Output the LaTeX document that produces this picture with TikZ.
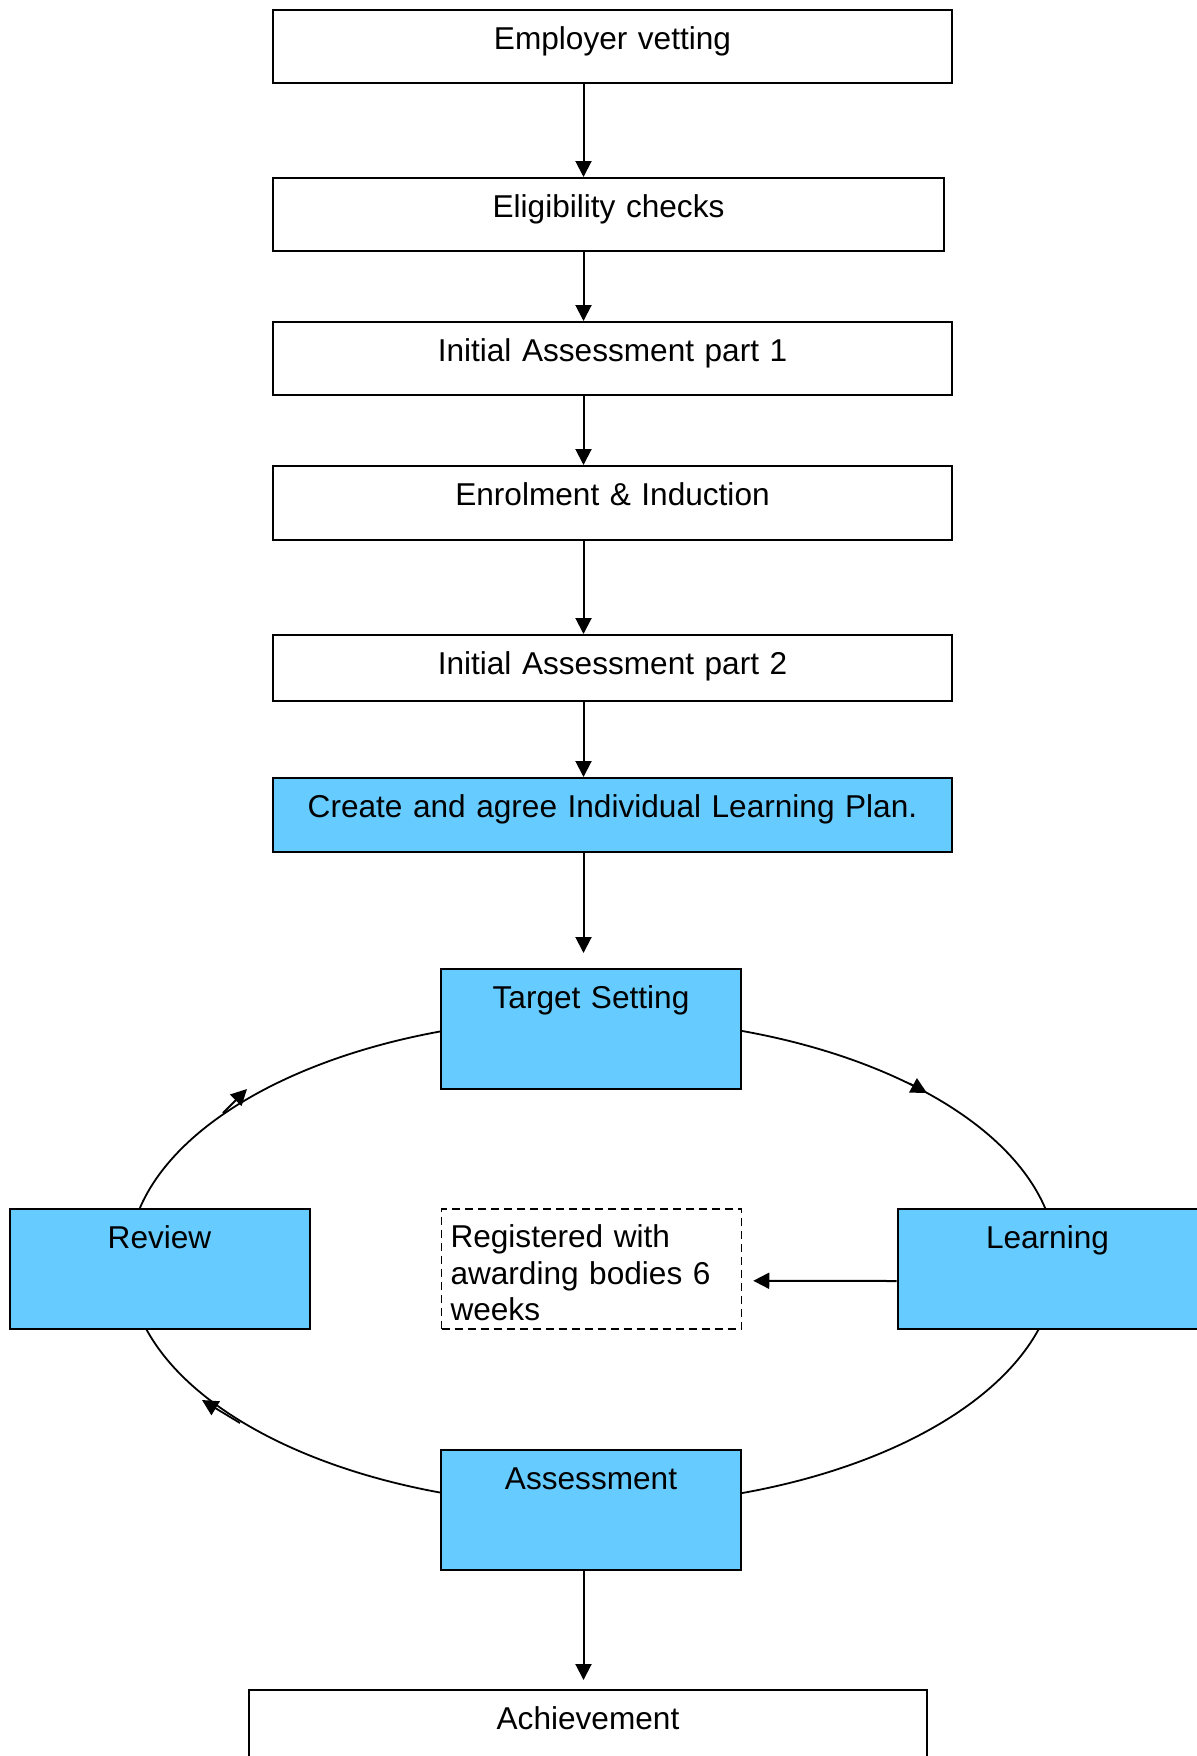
\documentclass[tikz,border=0pt]{standalone}
\usepackage{fontspec}
\setmainfont{Liberation Sans}
\usetikzlibrary{arrows.meta}
\definecolor{cycblue}{HTML}{66CCFF}
\begin{document}
\begin{tikzpicture}[x=0.5pt,y=0.5pt,
  box/.style={draw, line width=1pt, fill=white, inner xsep=0pt, inner ysep=0pt, anchor=north, align=center, text height=19.5pt, font=\fontsize{15.8}{18.2}\selectfont},
  bluebox/.style={box, fill=cycblue},
  widebox/.style={box, text width=339.5pt, text depth=17pt},
  cycbox/.style={bluebox, text width=150pt, text depth=40.5pt},
  arr/.style={line width=1pt, -{Triangle[length=8pt,width=8pt]}},
  cycline/.style={line width=0.9pt},
  ]
\useasboundingbox (0,0) rectangle (1196,-1756);
% cycle ellipse
\coordinate (cc) at (592.5,-1262);
\draw[cycline] (cc) ellipse [x radius=464, y radius=244];
% linear chain
\node[widebox] (ev) at (612.5,-9) {Employer vetting};
\node[widebox, text width=335.5pt] (ec) at (608.5,-177) {Eligibility checks};
\node[widebox] (ia1) at (612.5,-321) {Initial Assessment part 1};
\node[widebox, text depth=17.5pt] (ei) at (612.5,-465) {Enrolment \& Induction};
\node[widebox, text depth=13.5pt] (ia2) at (612.5,-634) {Initial Assessment part 2};
\node[widebox, fill=cycblue, text depth=17.5pt] (ilp) at (612.5,-777) {Create and agree Individual Learning Plan.};
% cycle boxes
\node[cycbox] (ts) at (591,-968) {Target Setting};
\node[cycbox] (rev) at (159.5,-1208) {Review};
\node[cycbox] (learn) at (1047.5,-1208) {Learning};
\node[cycbox] (ass) at (591,-1449) {Assessment};
\node[box, dash pattern=on 4pt off 2.5pt, line width=0.75pt, align=left, inner xsep=4.5pt, text width=141pt, text depth=40.5pt] (reg) at (591.5,-1208) {Registered with\\awarding bodies 6\\weeks};
\node[widebox, text width=339pt] (ach) at (588,-1689) {Achievement};
% connectors
\coordinate (spine) at (583.5,0);
\draw[arr] (spine |- ev.south) -- (spine |- ec.north);
\draw[arr] (spine |- ec.south) -- (spine |- ia1.north);
\draw[arr] (spine |- ia1.south) -- (spine |- ei.north);
\draw[arr] (spine |- ei.south) -- (spine |- ia2.north);
\draw[arr] (spine |- ia2.south) -- (spine |- ilp.north);
\draw[arr, shorten >=7.5pt] (spine |- ilp.south) -- (spine |- ts.north);
\draw[arr, shorten >=4.5pt] (spine |- ass.south) -- (spine |- ach.north);
\draw[arr, shorten >=5.5pt] ([yshift=-6pt]learn.west) -- ([yshift=-6pt]reg.east);
% arrowheads on the cycle
\coordinate (a1s) at (223,-1113); \coordinate (a1e) at (247,-1089);
\coordinate (a2s) at (909.4,-1083.4); \coordinate (a2e) at (927,-1093);
\coordinate (a3s) at (240,-1423); \coordinate (a3e) at (202,-1400);
\draw[arr, line width=0.9pt] (a1s) -- (a1e);
\draw[arr, line width=0.9pt] (a2s) -- (a2e);
\draw[arr, line width=0.9pt] (a3s) -- (a3e);
\end{tikzpicture}
\end{document}
